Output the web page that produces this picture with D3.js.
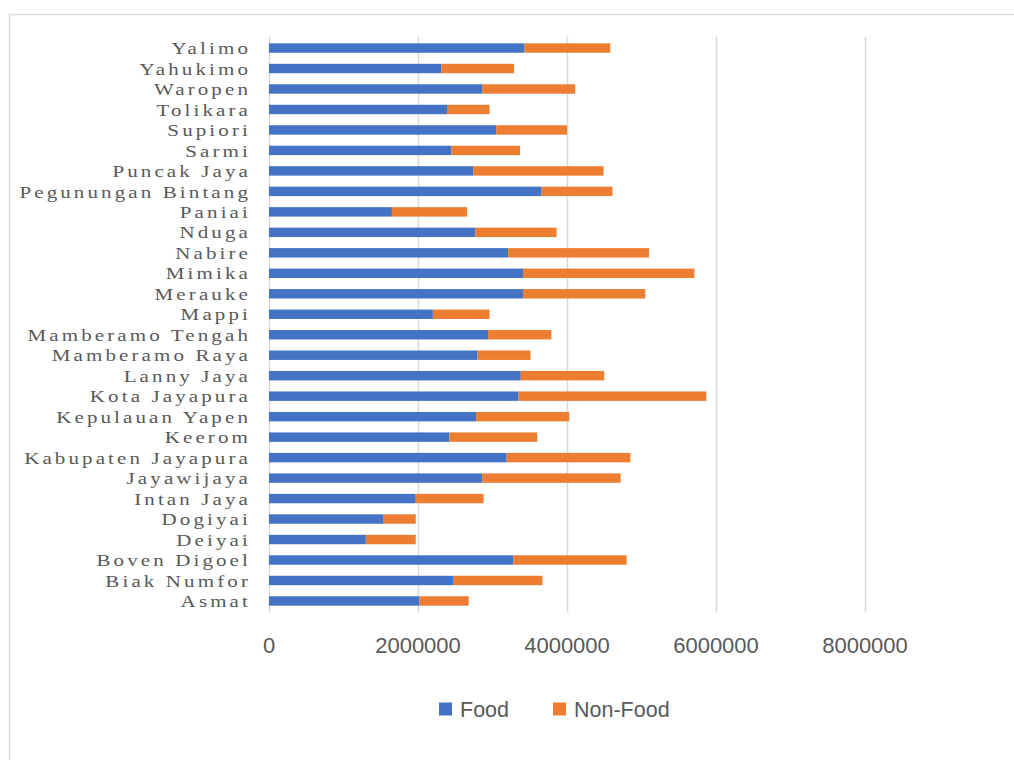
<!DOCTYPE html>
<html>
<head>
<meta charset="utf-8">
<script src="https://cdn.jsdelivr.net/npm/d3@7"></script>
<style>
  body { margin: 0; background: #ffffff; }
  svg { display: block; }
</style>
</head>
<body>
<div id="chart"></div>
<script>
// chart data, top row first
const categories = [
    "Yalimo", "Yahukimo", "Waropen", "Tolikara", "Supiori", "Sarmi", "Puncak Jaya",
    "Pegunungan Bintang", "Paniai", "Nduga", "Nabire", "Mimika", "Merauke", "Mappi",
    "Mamberamo Tengah", "Mamberamo Raya", "Lanny Jaya", "Kota Jayapura", "Kepulauan Yapen",
    "Keerom", "Kabupaten Jayapura", "Jayawijaya", "Intan Jaya", "Dogiyai", "Deiyai",
    "Boven Digoel", "Biak Numfor", "Asmat"
];
const food = [
    3430000, 2310000, 2860000, 2390000, 3050000, 2450000, 2740000,
    3660000, 1650000, 2770000, 3210000, 3410000, 3410000, 2200000,
    2940000, 2800000, 3380000, 3350000, 2780000,
    2420000, 3190000, 2860000, 1970000, 1540000, 1300000,
    3280000, 2470000, 2020000
];
const nonFood = [
    1150000, 980000, 1250000, 570000, 950000, 920000, 1750000,
    950000, 1010000, 1090000, 1890000, 2300000, 1640000, 760000,
    850000, 710000, 1120000, 2520000, 1250000,
    1180000, 1660000, 1860000, 910000, 430000, 670000,
    1520000, 1200000, 660000
];
const xTicks = [0, 2000000, 4000000, 6000000, 8000000];
const seriesNames = ["Food", "Non-Food"];
const seriesColors = ["#4472C4", "#ED7D31"];

const width = 1014;
const height = 760;

const svg = d3.select("#chart")
    .append("svg")
    .attr("width", width)
    .attr("height", height);

// chart frame (runs off the right and bottom edge)
svg.append("rect")
    .attr("x", 9.5)
    .attr("y", 14.5)
    .attr("width", width + 20)
    .attr("height", height + 20)
    .attr("fill", "#ffffff")
    .attr("stroke", "#d9d9d9")
    .attr("stroke-width", 1.5);

const plotTop = 37.8;
const plotBottom = 611.2;

const xScale = d3.scaleLinear()
    .domain([0, 8000000])
    .range([269, 865]);

const yScale = d3.scaleBand()
    .domain(categories)
    .range([plotTop, plotBottom])
    .paddingInner(0.54)
    .paddingOuter(0.27);

// vertical gridlines
svg.append("g")
    .selectAll("line")
    .data(xTicks)
    .enter()
    .append("line")
    .attr("x1", d => Math.round(xScale(d)) + 0.5)
    .attr("x2", d => Math.round(xScale(d)) + 0.5)
    .attr("y1", plotTop - 1)
    .attr("y2", plotBottom + 1)
    .attr("stroke", "#d9d9d9")
    .attr("stroke-width", 1.5);

// stacked bars
const rows = categories.map((c, i) => ({ category: c, values: [food[i], nonFood[i]] }));
const stacked = d3.stack().keys([0, 1]).value((d, k) => d.values[k])(rows);

svg.append("g")
    .selectAll("g")
    .data(stacked)
    .enter()
    .append("g")
    .attr("fill", (d, i) => seriesColors[i])
    .selectAll("rect")
    .data(d => d)
    .enter()
    .append("rect")
    .attr("x", d => xScale(d[0]))
    .attr("width", d => xScale(d[1]) - xScale(d[0]))
    .attr("y", d => yScale(d.data.category))
    .attr("height", yScale.bandwidth());

// category labels: smaller font stretched sideways so rows don't collide
svg.append("g")
    .attr("transform", "translate(251,0) scale(1.2,1)")
    .selectAll("text")
    .data(categories)
    .enter()
    .append("text")
    .attr("x", 0)
    .attr("y", d => yScale(d) + yScale.bandwidth() / 2)
    .attr("dy", "0.35em")
    .attr("text-anchor", "end")
    .attr("font-family", "'Liberation Serif', 'DejaVu Serif', serif")
    .attr("font-size", "17.5px")
    .attr("letter-spacing", "2.6px")
    .attr("fill", "#595959")
    .text(d => d);

// x tick labels
svg.append("g")
    .selectAll("text")
    .data(xTicks)
    .enter()
    .append("text")
    .attr("x", d => xScale(d))
    .attr("y", 645)
    .attr("dy", "0.35em")
    .attr("text-anchor", "middle")
    .attr("font-family", "'Liberation Sans', Arial, sans-serif")
    .attr("font-size", "22px")
    .attr("fill", "#595959")
    .text(d => d);

// legend
const legendX = [439, 553];
const legend = svg.append("g")
    .selectAll("g")
    .data(seriesNames)
    .enter()
    .append("g")
    .attr("transform", (d, i) => `translate(${legendX[i]},709)`);

legend.append("rect")
    .attr("x", 0)
    .attr("y", -6.5)
    .attr("width", 13)
    .attr("height", 13)
    .attr("fill", (d, i) => seriesColors[i]);

legend.append("text")
    .attr("x", 21)
    .attr("y", 0)
    .attr("dy", "0.35em")
    .attr("font-family", "'Liberation Sans', Arial, sans-serif")
    .attr("font-size", "21.5px")
    .attr("fill", "#595959")
    .text(d => d);
</script>
</body>
</html>
